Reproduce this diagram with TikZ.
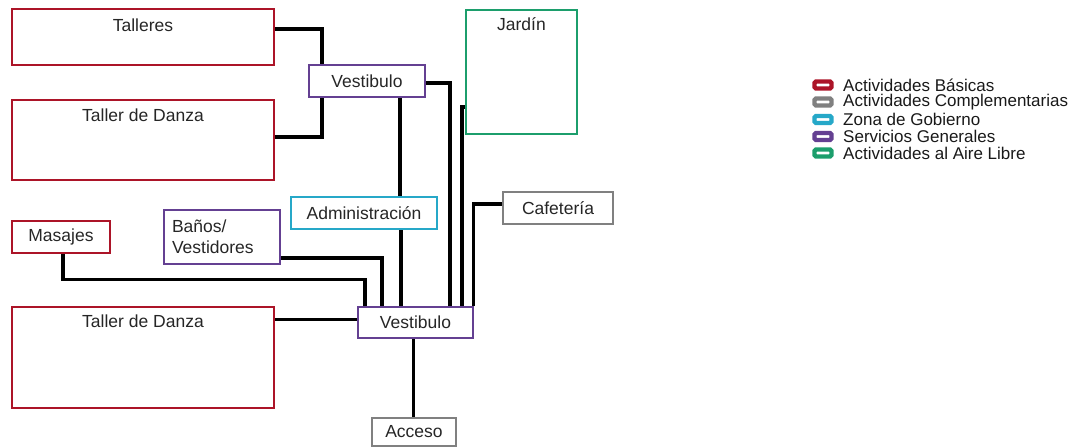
\documentclass[tikz,border=0pt]{standalone}
\usepackage{fontspec}
\setmainfont{Liberation Sans}
\usepackage{xcolor}
\definecolor{basicas}{RGB}{172,20,40}
\definecolor{complem}{RGB}{128,128,128}
\definecolor{gobierno}{RGB}{38,168,200}
\definecolor{servicios}{RGB}{100,64,146}
\definecolor{airelibre}{RGB}{28,158,108}
\tikzset{
  zona/.style={rectangle, line width=2.8pt, inner sep=0pt, text=black!85,
    font=\fontsize{17.5}{21}\selectfont},
  link/.style={line width=3.2pt, black},
  leyicon/.style={rectangle, rounded corners=1.5pt, line width=4.4pt, fill=white,
    minimum width=17pt, minimum height=7pt, inner sep=0pt},
  leytext/.style={anchor=west, inner sep=0pt, text=black!90,
    font=\fontsize{17}{17}\selectfont}
}

\begin{document}
\begin{tikzpicture}[x=1pt, y=-1pt]
        \useasboundingbox (0,0) rectangle (1076,447);

        % zonas
        \node[zona, draw=basicas, minimum width=262pt, minimum height=56pt,
              label={[zona, anchor=center, yshift=-18pt]north:Talleres}] (talleres) at (143,37) {};
        \node[zona, draw=basicas, minimum width=262pt, minimum height=80pt,
              label={[zona, anchor=center, yshift=-17pt]north:Taller de Danza}] (danzaA) at (143,140) {};
        \node[zona, draw=servicios, minimum width=116pt, minimum height=32pt] (vestA) at (367,81) {Vestibulo};
        \node[zona, draw=airelibre, minimum width=111pt, minimum height=124pt,
              label={[zona, anchor=center, yshift=-16pt]north:Jardín}] (jardin) at (521.5,72) {};
        \node[zona, draw=gobierno, minimum width=146pt, minimum height=32pt] (admin) at (364,213) {Administración};
        \node[zona, draw=complem, minimum width=110pt, minimum height=32pt] (cafe) at (558,208) {Cafetería};
        \node[zona, draw=basicas, minimum width=98pt, minimum height=32pt] (masajes) at (61,237) {Masajes};
        \node[zona, draw=servicios, minimum width=116pt, minimum height=54pt,
              align=left, text width=100pt] (banos) at (222,237) {Baños/\\Vestidores};
        \node[zona, draw=basicas, minimum width=262pt, minimum height=101pt,
              label={[zona, anchor=center, yshift=-16pt]north:Taller de Danza}] (danzaB) at (143,357.5) {};
        \node[zona, draw=servicios, minimum width=115pt, minimum height=31pt] (vestB) at (415.5,322.5) {Vestibulo};
        \node[zona, draw=complem, line width=1.6pt, minimum width=84pt, minimum height=28pt] (acceso) at (414,432) {Acceso};

        % conexiones
        \draw[link] ([yshift=8pt]talleres.east) -| ([xshift=-45pt]vestA.north);
        \draw[link] ([yshift=3pt]danzaA.east) -| ([xshift=-45pt]vestA.south);
        \draw[link] ([yshift=-2pt]vestA.east) -| ([xshift=34.5pt]vestB.north);
        \draw[link] ([xshift=33pt]vestA.south) -- ([xshift=33pt]vestA.south |- admin.north);
        \draw[link] ([xshift=37pt]admin.south) -- ([xshift=37pt]admin.south |- vestB.north);
        \draw[link] ([yshift=-35pt]jardin.west) -| ([xshift=46.5pt]vestB.north);
        \draw[link] ([yshift=4pt]cafe.west) -| ([xshift=-1pt]vestB.north east);
        \draw[link] ([xshift=2pt]masajes.south) -- ++(0,25) -| ([xshift=-50.5pt]vestB.north);
        \draw[link] ([yshift=-21pt]banos.east) -| ([xshift=-33.5pt]vestB.north);
        \draw[link] (danzaB.east |- vestB.west) ++(0,-3) -- ([yshift=3pt]vestB.west);
        \draw[link] ([xshift=-2pt]vestB.south) -- ([xshift=-2pt]vestB.south |- acceso.north);

        % leyenda
        \node[leyicon, draw=basicas] (leyA) at (823,85) {};
        \node[leytext] (leyAt) at (843,85) {Actividades Básicas};
        \node[leyicon, draw=complem] (leyB) at (823,102) {};
        \node[leytext] (leyBt) at (843,102) {Actividades Complementarias};
        \node[leyicon, draw=gobierno] (leyC) at (823,119.5) {};
        \node[leytext] (leyCt) at (843,119.5) {Zona de Gobierno};
        \node[leyicon, draw=servicios] (leyD) at (823,136.5) {};
        \node[leytext] (leyDt) at (843,136.5) {Servicios Generales};
        \node[leyicon, draw=airelibre] (leyE) at (823,153) {};
        \node[leytext] (leyEt) at (843,153) {Actividades al Aire Libre};
\end{tikzpicture}
\end{document}
